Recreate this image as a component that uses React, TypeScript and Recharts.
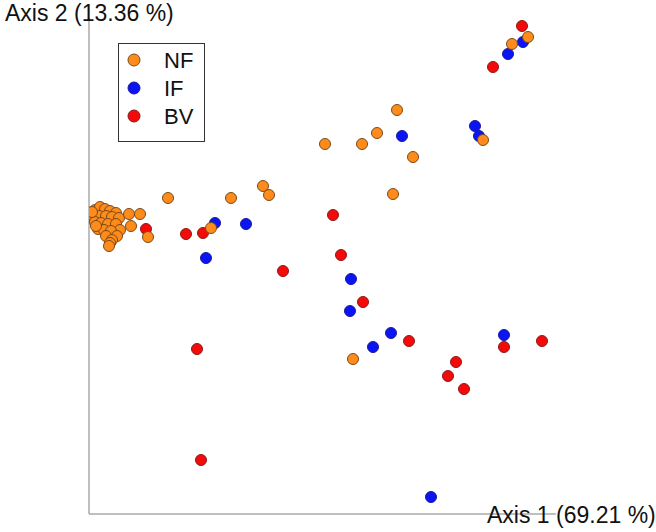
import React from "react";
import { ScatterChart, Scatter, XAxis, YAxis, Legend, ReferenceLine } from "recharts";

// Ordination coordinates (arbitrary units)
const nfX = [6, 11, 16, 21, 27, 4, 10, 17, 23, 30, 6, 12, 19, 27, 31, 9, 15, 22, 28, 17, 23, 21, 3, 7, 20,
  40, 51, 42, 59, 79, 122, 142, 174, 180, 236, 273, 288, 308, 324, 304, 264, 394, 423, 439];
const nfY = [304, 307, 305, 303, 301, 298, 298, 298, 297, 296, 292, 291, 290, 290, 284, 285, 284, 283, 278, 278, 274, 271, 302, 288, 268,
  300, 300, 288, 277, 316, 286, 316, 328, 319, 370, 370, 381, 404, 357, 320, 155, 374, 470, 477];

const ifX = [25, 16, 126, 157, 117, 313, 386, 390, 419, 434, 262, 261, 302, 284, 415, 342];
const ifY = [294, 291, 291, 290, 256, 378, 388, 378, 460, 472, 235, 203, 181, 167, 179, 17];

const bvX = [57, 97, 114, 194, 244, 252, 274, 320, 367, 359, 375, 415, 453, 108, 112, 433, 404];
const bvY = [285, 280, 281, 243, 299, 259, 212, 173, 152, 138, 125, 167, 173, 165, 54, 488, 447];

const groups = ["NF", "IF", "BV"];
const fills = ["#FF8C1A", "#0A14F5", "#F50A0A"];
const strokes = ["#7A4A1A", "#1A1A9A", "#8A1A1A"];

const toPts = (xs: number[], ys: number[]) => xs.map((x, i) => ({ x, y: ys[i] }));
const nfData = toPts(nfX, nfY);
const ifData = toPts(ifX, ifY);
const bvData = toPts(bvX, bvY);

const dot = (i: number) => (p: any) => (
  <circle cx={p.cx} cy={p.cy} r={5.5} fill={fills[i]} stroke={strokes[i]} strokeWidth={1} />
);

const LegendBox = () => (
  <svg width={88} height={100} style={{ display: "block" }}>
    <rect x={0.5} y={0.5} width={86} height={98} fill="#fff" stroke="#333" strokeWidth={1} />
    {groups.map((g, i) => (
      <g key={g}>
        <circle cx={16} cy={17 + i * 28} r={6} fill={fills[i]} stroke={strokes[i]} strokeWidth={1} />
        <text x={46} y={25 + i * 28} fontSize={22} fontFamily="'Liberation Sans', Arial, sans-serif" fill="#111">
          {g}
        </text>
      </g>
    ))}
  </svg>
);

export default function App() {
  return (
    <div style={{ position: "absolute", left: 0, top: 0, width: 656, height: 532, background: "#fff" }}>
      <ScatterChart width={656} height={532} margin={{ top: 18, left: 89, right: 100, bottom: 18 }}>
        <XAxis type="number" dataKey="x" domain={[0, 467]} hide allowDataOverflow />
        <YAxis type="number" dataKey="y" domain={[0, 496]} hide allowDataOverflow />
        <ReferenceLine y={0} stroke="#aaaaaa" strokeWidth={1.5} ifOverflow="visible" />
        <ReferenceLine x={0} stroke="#aaaaaa" strokeWidth={1.5} ifOverflow="visible" />
        <Legend layout="vertical" align="center" verticalAlign="middle" content={() => <LegendBox />}
          wrapperStyle={{ left: 118, top: 43, width: 88, height: 100 }} />
        <Scatter name="IF" data={ifData} shape={dot(1)} isAnimationActive={false} />
        <Scatter name="BV" data={bvData} shape={dot(2)} isAnimationActive={false} />
        <Scatter name="NF" data={nfData} shape={dot(0)} isAnimationActive={false} />
      </ScatterChart>
      <div style={{ position: "absolute", left: 5, top: 0, fontSize: 23, fontFamily: "'Liberation Sans', Arial, sans-serif", color: "#111", whiteSpace: "nowrap" }}>
        Axis 2 (13.36 %)
      </div>
      <div style={{ position: "absolute", left: 487, top: 502, fontSize: 23, fontFamily: "'Liberation Sans', Arial, sans-serif", color: "#111", whiteSpace: "nowrap" }}>
        Axis 1 (69.21 %)
      </div>
    </div>
  );
}
